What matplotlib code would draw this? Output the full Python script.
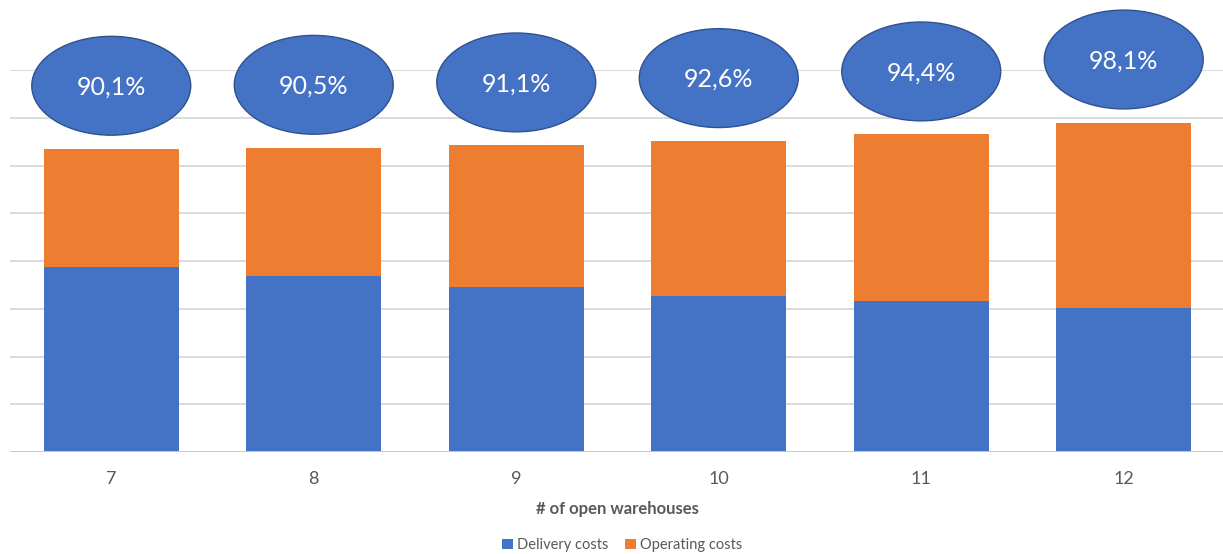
import matplotlib
matplotlib.use("Agg")
import matplotlib.pyplot as plt
from matplotlib.patches import Ellipse, Patch

# Data
warehouses = ["7", "8", "9", "10", "11", "12"]
delivery_costs = [3.87, 3.69, 3.46, 3.27, 3.16, 3.02]
operating_costs = [2.48, 2.68, 2.96, 3.24, 3.49, 3.88]
share_labels = ["90,1%", "90,5%", "91,1%", "92,6%", "94,4%", "98,1%"]

BLUE = "#4472C4"
ORANGE = "#ED7D31"
GRID = "#d4d4d4"
TEXT = "#595959"

plt.rcParams["font.family"] = ["Lato", "DejaVu Sans"]

fig = plt.figure(figsize=(12.23, 5.54), dpi=100)
ax = fig.add_axes([10 / 1223, 102 / 554, 1215 / 1223, 382 / 554])

x = list(range(len(warehouses)))
width = 0.667
ax.bar(x, delivery_costs, width, color=BLUE, zorder=2, label="Delivery costs")
ax.bar(x, operating_costs, width, bottom=delivery_costs, color=ORANGE,
       zorder=2, label="Operating costs")

ax.set_xlim(-0.5, len(x) - 0.5)
ax.set_ylim(0, 8)
ax.set_yticks(range(0, 9))
ax.yaxis.grid(True, color=GRID, linewidth=1.2, zorder=0)
ax.tick_params(axis="y", left=False, labelleft=False)
ax.tick_params(axis="x", length=0, pad=14, labelsize=13, labelcolor=TEXT)
ax.set_xticks(x)
ax.set_xticklabels(warehouses)
for s in ax.spines.values():
    s.set_visible(False)
ax.axhline(0, color="#c8c8c8", linewidth=1.4, zorder=3)

ax.set_xlabel("# of open warehouses", fontsize=12, fontweight="bold",
              color=TEXT, labelpad=10)

# Ellipse callouts above each stack
for i, (d, o, lab) in enumerate(zip(delivery_costs, operating_costs, share_labels)):
    cy = d + o + 1.32
    e = Ellipse((i, cy), width=0.785, height=2.07, facecolor=BLUE,
                edgecolor="#2F528F", linewidth=1.0, clip_on=False, zorder=5)
    ax.add_patch(e)
    ax.text(i, cy - 0.03, lab, ha="center", va="center", color="white",
            fontsize=18, zorder=6, clip_on=False)

handles = [Patch(facecolor=BLUE, label="Delivery costs"),
           Patch(facecolor=ORANGE, label="Operating costs")]
fig.legend(handles=handles, loc="center", bbox_to_anchor=(622 / 1223, 1 - 545 / 554),
           ncol=2, frameon=False, fontsize=10.5, labelcolor=TEXT,
           handlelength=0.75, handleheight=0.75, handletextpad=0.3,
           columnspacing=1.1)

fig.savefig("out.png", dpi=100)
